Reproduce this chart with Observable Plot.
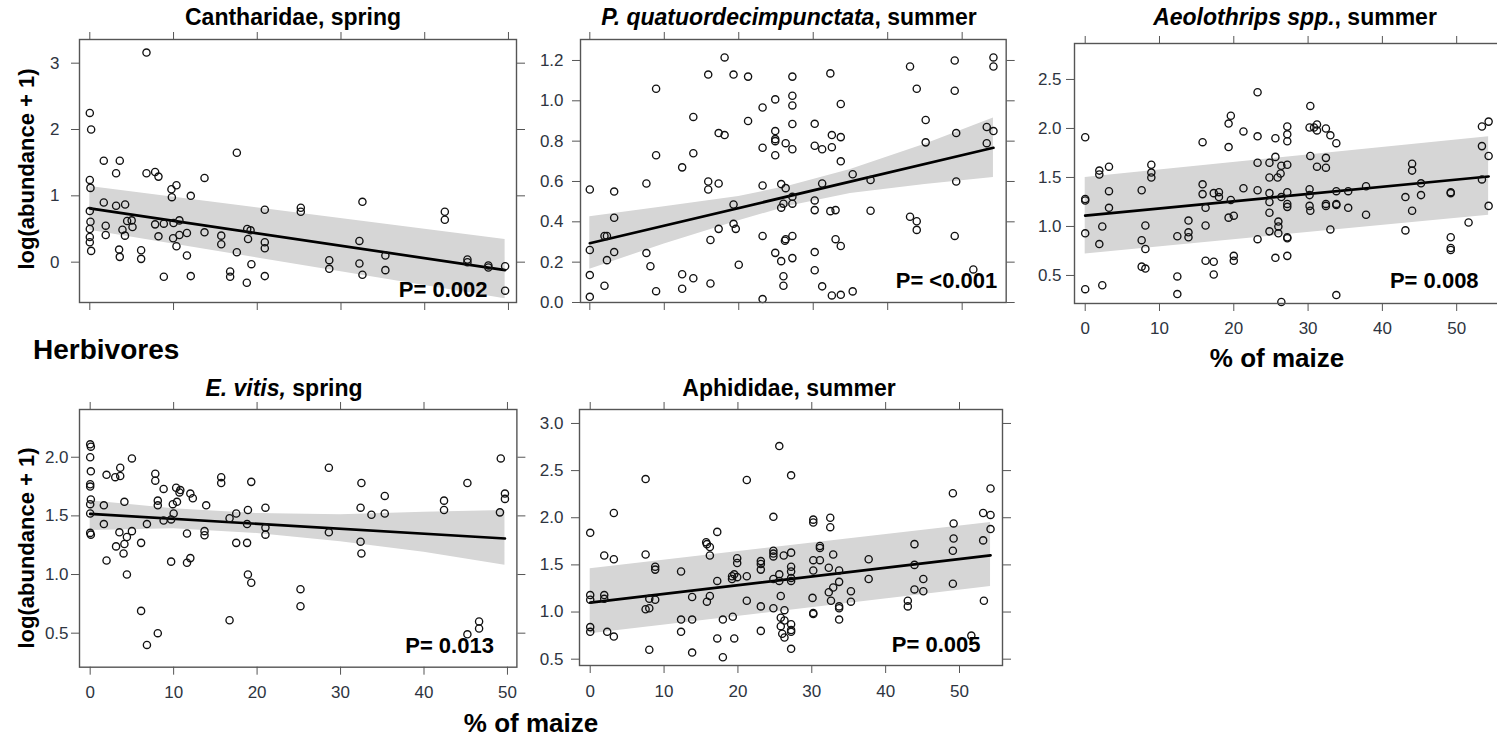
<!DOCTYPE html>
<html><head><meta charset="utf-8">
<script src="https://cdn.jsdelivr.net/npm/d3@7"></script>
<script src="https://cdn.jsdelivr.net/npm/@observablehq/plot@0.6"></script>
<style>
html,body{margin:0;padding:0;background:#fff;}
#wrap{position:relative;width:1497px;height:737px;overflow:hidden;font-family:"Liberation Sans",Arial,sans-serif;}
.lbl{position:absolute;font-weight:bold;white-space:nowrap;line-height:1;color:#000;}
</style></head>
<body><div id="wrap"></div>
<script>
// ---------------- DATA ----------------
const xTicks = [0, 10, 20, 30, 40, 50];
const panelTitles = ["Cantharidae, spring", "<i>P. quatuordecimpunctata</i>, summer", "<i>Aeolothrips spp.</i>, summer", "<i>E. vitis,</i> spring", "Aphididae, summer"];
const pValues = ["P= 0.002", "P= <0.001", "P= 0.008", "P= 0.013", "P= 0.005"];
const groupLabel = "Herbivores";
const xLabel = "% of maize";
const yLabel = "log(abundance + 1)";

// Cantharidae, spring
const canthX = [6.77,0,0.16,1.67,3.58,3.14,6.77,7.8,8.2,13.7,17.56,0,0.08,9.75,10.35,9.8,12.06,1.67,3.14,4.22,0,20.9,25.2,25.2,32.56,42.4,42.4,0.08,1.9,1.9,0,0,0,0.16,3.9,4.46,4.2,5.1,5.0,7.8,8.2,8.84,10.0,10.7,9.95,10.35,10.7,11.6,13.7,15.7,15.7,18.8,19.2,18.9,20.9,20.9,3.5,3.58,6.13,6.13,11.6,17.56,8.84,12.06,16.76,16.76,18.75,19.3,20.9,28.6,28.6,32.2,32.2,32.56,35.3,35.3,45.1,45.1,47.6,47.6,49.6,49.6];
const canthY = [3.16,2.25,2.0,1.53,1.53,1.34,1.34,1.36,1.29,1.27,1.65,1.24,1.12,1.10,1.16,0.98,1.0,0.9,0.85,0.87,0.77,0.79,0.82,0.76,0.91,0.76,0.64,0.61,0.55,0.41,0.50,0.38,0.30,0.17,0.49,0.62,0.40,0.53,0.63,0.57,0.39,0.58,0.59,0.63,0.36,0.24,0.41,0.44,0.45,0.40,0.27,0.50,0.48,0.35,0.30,0.21,0.19,0.08,0.18,0.05,0.10,0.15,-0.22,-0.21,-0.14,-0.22,-0.31,-0.03,-0.21,0.03,-0.10,0.32,-0.02,-0.19,0.10,-0.12,0.04,0.0,-0.05,-0.08,-0.06,-0.43];
const canthFitX = [0, 49.6], canthFitY = [0.81, -0.12];
const canthBandX = [0, 49.6], canthBandLo = [0.48, -0.55], canthBandHi = [1.14, 0.34];

// P. quatuordecimpunctata, summer
const propX = [0,0,0,0,1.97,2.3,2.3,1.97,3.27,3.27,3.27,7.6,7.6,8.14,8.9,8.9,8.9,12.4,12.4,12.4,13.9,13.9,13.9,15.9,15.9,15.9,16.2,16.2,17.3,17.3,17.3,18.1,18.1,19.3,19.3,19.3,19.6,20.0,21.25,21.25,23.2,23.2,23.2,23.2,23.2,24.9,24.9,24.9,24.9,24.9,24.9,25.7,25.7,25.7,26.0,26.3,26.3,26.3,26.2,26.0,26.0,27.2,27.2,27.2,27.2,27.2,27.2,27.2,27.2,27.2,30.2,30.2,30.2,30.2,30.2,30.2,31.2,31.2,31.2,32.3,32.5,32.5,32.3,32.5,33.0,33.0,33.7,33.7,33.7,33.7,33.7,35.3,35.3,37.7,37.7,43.0,43.0,43.9,43.9,43.9,45.1,45.1,49.0,49.0,49.2,49.2,49.0,51.5,53.3,53.3,54.2,54.2,54.2];
const propY = [0.56,0.26,0.136,0.028,0.33,0.33,0.21,0.083,0.55,0.42,0.25,0.59,0.245,0.18,1.06,0.73,0.056,0.67,0.14,0.068,0.92,0.74,0.12,1.13,0.60,0.56,0.31,0.094,0.84,0.59,0.365,1.215,0.83,1.13,0.486,0.39,0.365,0.187,1.12,0.90,0.967,0.767,0.58,0.33,0.017,1.007,0.85,0.81,0.80,0.73,0.246,0.587,0.47,0.205,0.49,0.567,0.79,0.314,0.306,0.13,0.083,1.12,1.025,0.977,0.885,0.76,0.524,0.49,0.33,0.22,0.886,0.777,0.506,0.458,0.25,0.16,0.76,0.59,0.08,1.136,0.83,0.77,0.453,0.035,0.458,0.314,0.984,0.82,0.70,0.28,0.038,0.636,0.055,0.607,0.455,1.17,0.425,1.06,0.403,0.36,0.905,0.794,1.20,1.05,0.84,0.60,0.33,0.164,0.87,0.79,0.85,1.215,1.17];
const propFitX = [0, 54.2], propFitY = [0.294, 0.767];
const propBandX = [0, 10, 20, 27, 35, 45, 54.2];
const propBandLo = [0.165, 0.29, 0.405, 0.48, 0.54, 0.585, 0.62];
const propBandHi = [0.425, 0.475, 0.525, 0.58, 0.66, 0.785, 0.915];

// Aeolothrips spp., summer
const aeolX = [0,0,0,0,0,1.9,1.9,1.9,2.3,2.3,3.2,3.2,3.2,7.6,7.6,7.6,8.1,8.1,8.1,8.9,8.9,8.9,12.4,12.4,12.4,13.9,13.9,13.9,15.8,15.8,15.8,16.2,16.2,16.2,17.3,17.3,17.3,18.0,18.0,19.3,19.6,19.3,19.6,19.3,20.0,20.0,20.0,21.3,21.3,23.2,23.2,23.2,23.2,23.2,24.8,24.8,24.8,24.8,24.8,24.8,25.6,25.6,25.9,25.6,26.0,26.0,26.0,26.3,26.4,26.4,26.4,27.2,27.2,27.2,27.2,27.2,27.2,27.2,27.2,27.2,27.2,30.3,30.2,30.3,30.2,30.2,30.2,30.3,30.8,31.2,31.2,31.2,32.4,33.0,33.8,32.4,32.4,32.4,32.4,33.0,33.8,33.8,33.8,33.8,35.4,35.4,37.8,37.8,43.1,43.1,44.0,44.0,44.0,45.2,45.2,49.2,49.2,49.2,49.2,49.2,51.6,53.4,53.4,53.4,54.3,54.3,54.3];
const aeolY = [1.91,1.28,1.265,0.93,0.36,1.57,1.53,0.82,1.0,0.40,1.61,1.36,1.19,1.37,0.86,0.59,1.01,0.77,0.57,1.63,1.55,1.50,0.90,0.49,0.31,1.06,0.94,0.89,1.86,1.43,1.33,1.19,1.01,0.65,1.34,0.64,0.51,1.35,1.30,2.05,2.13,1.81,1.27,1.09,1.11,0.70,0.65,1.97,1.39,2.37,1.92,1.65,1.37,0.87,1.65,1.50,1.34,1.25,1.14,0.95,1.90,1.71,1.50,0.68,1.05,1.0,0.93,1.54,1.62,1.30,0.23,2.02,1.94,1.87,1.63,1.35,1.23,1.20,0.89,0.88,0.70,2.23,2.01,1.72,1.38,1.32,1.21,1.16,2.01,2.04,1.98,1.61,2.0,1.93,1.85,1.70,1.60,1.23,1.21,0.97,1.36,1.23,1.22,0.30,1.36,1.19,1.41,1.12,1.30,0.96,1.64,1.57,1.16,1.44,1.32,1.35,1.34,0.89,0.78,0.76,1.04,2.02,1.82,1.48,2.07,1.72,1.21];
const aeolFitX = [0, 54.3], aeolFitY = [1.11, 1.51];
const aeolBandX = [0, 54.3], aeolBandLo = [0.72, 1.115], aeolBandHi = [1.50, 1.915];

// E. vitis, spring
const evitX = [0,0.08,0,0.08,0,0,0.08,0,0,0,0.08,1.64,1.64,1.96,1.96,3.0,3.6,3.6,3.5,3.1,4.0,4.1,4.1,4.4,4.4,5.0,5.0,6.1,6.1,6.8,6.8,7.8,7.8,8.1,8.1,8.1,8.8,8.8,9.7,9.7,9.9,10.0,10.3,10.4,10.7,10.8,11.6,11.6,12.0,12.0,12.3,13.7,13.7,13.9,15.7,15.7,16.7,16.7,17.5,17.5,18.8,18.8,18.9,18.9,19.3,19.3,21.0,21.0,21.0,25.2,25.2,28.6,28.6,32.5,32.4,32.4,32.5,33.7,35.3,35.3,42.4,42.4,45.2,45.2,46.6,46.6,49.2,49.1,49.7,49.7];
const evitY = [2.11,2.09,2.0,1.88,1.77,1.75,1.64,1.60,1.52,1.355,1.34,1.59,1.43,1.85,1.12,1.83,1.91,1.84,1.36,1.24,1.18,1.26,1.62,1.32,1.0,1.99,1.37,1.27,0.69,1.43,0.40,1.86,1.80,1.63,1.59,0.50,1.73,1.46,1.47,1.11,1.60,1.52,1.74,1.62,1.70,1.72,1.35,1.10,1.69,1.14,1.65,1.37,1.335,1.59,1.83,1.78,1.48,0.61,1.52,1.27,1.43,1.27,1.55,1.0,1.79,0.93,1.57,1.40,1.34,0.875,0.73,1.91,1.36,1.78,1.57,1.28,1.18,1.51,1.67,1.52,1.63,1.55,1.78,0.49,0.60,0.54,1.99,1.53,1.69,1.645];
const evitFitX = [0, 49.7], evitFitY = [1.517, 1.307];
const evitBandX = [0, 10, 20, 30, 40, 49.7];
const evitBandLo = [1.375, 1.39, 1.35, 1.28, 1.19, 1.08];
const evitBandHi = [1.63, 1.56, 1.52, 1.51, 1.53, 1.545];

// Aphididae, summer
const aphX = [0,0,0,0,0,1.9,1.9,1.9,2.3,3.2,3.2,3.2,7.5,7.5,7.5,8.0,8.0,8.0,8.8,8.8,8.8,12.3,12.3,12.3,13.8,13.8,13.8,15.7,15.8,16.2,16.2,16.2,15.8,17.2,17.2,17.2,17.96,17.96,19.2,19.2,19.5,19.3,19.5,19.9,19.9,19.9,21.2,21.2,21.2,23.1,23.1,23.1,23.1,23.1,24.8,24.8,24.8,24.8,24.8,24.8,25.6,25.6,25.6,25.8,25.8,25.8,26.0,26.2,26.3,26.3,26.3,27.2,27.2,27.2,27.2,27.2,27.2,27.2,27.2,27.2,27.2,30.2,30.2,30.2,30.2,30.1,30.2,30.2,31.1,31.1,31.1,32.5,32.5,32.3,32.9,32.3,32.6,32.9,33.7,33.7,33.7,33.7,33.7,35.3,35.3,37.7,37.7,43.0,43.0,43.9,43.9,43.9,45.1,45.1,49.1,49.2,49.2,49.1,49.1,51.6,53.2,53.2,53.3,54.2,54.2,54.2];
const aphY = [1.84,1.18,1.13,0.84,0.79,1.60,1.18,1.14,0.79,2.05,1.56,0.74,2.41,1.61,1.03,1.14,1.04,0.60,1.48,1.45,1.13,1.43,0.92,0.79,1.16,0.92,0.57,1.74,1.72,1.69,1.60,1.17,1.11,1.85,1.33,0.72,0.92,0.52,1.38,1.35,1.40,0.95,0.72,1.57,1.52,1.37,2.40,1.38,1.12,1.54,1.51,1.45,1.06,0.80,2.01,1.65,1.62,1.59,1.35,1.04,2.76,1.40,1.33,1.17,0.94,0.85,0.77,1.60,1.02,0.91,0.73,2.45,1.63,1.48,1.43,1.36,1.33,0.87,0.81,0.79,0.61,1.98,1.95,1.55,1.44,1.15,0.99,0.98,1.70,1.68,1.55,2.0,1.90,1.47,1.61,1.21,1.12,1.26,1.44,1.32,1.06,1.04,0.92,1.22,1.11,1.56,1.35,1.12,1.06,1.72,1.50,1.24,1.35,1.22,2.26,1.94,1.78,1.65,1.30,0.75,2.05,1.76,1.12,2.31,2.03,1.88];
const aphFitX = [0, 54.2], aphFitY = [1.10, 1.60];
const aphBandX = [0, 54.2], aphBandLo = [0.77, 1.27], aphBandHi = [1.46, 1.95];

// ---------------- DRAW ----------------
const wrap = document.getElementById("wrap");
const FONT = '"Liberation Sans", Arial, sans-serif';
const TICKFONT = '"Liberation Sans Narrow", "Arial Narrow", "Liberation Sans", Arial, sans-serif';

function zip(xs, ys) { return xs.map((x, i) => ({x, y: ys[i]})); }

function panel(cfg) {
  const mL = 60, mR = 14, mT = 12, mB = cfg.showX ? 40 : 12;
  const W = cfg.R - cfg.L + mL + mR, H = cfg.B - cfg.T + mT + mB;
  const pts = zip(cfg.px, cfg.py);
  const fit = zip(cfg.fx, cfg.fy);
  const band = cfg.bx.map((x, i) => ({x, lo: cfg.blo[i], hi: cfg.bhi[i]}));
  const svg = Plot.plot({
    width: W, height: H,
    marginLeft: mL, marginRight: mR, marginTop: mT, marginBottom: mB,
    x: {domain: cfg.xd},
    y: {domain: cfg.yd},
    style: {fontFamily: TICKFONT, fontSize: "17px", background: "transparent", overflow: "visible"},
    marks: [
      Plot.areaY(band, {x: "x", y1: "lo", y2: "hi", fill: "#d6d6d6", curve: "linear"}),
      Plot.line(fit, {x: "x", y: "y", stroke: "#000", strokeWidth: 2.7}),
      Plot.dot(pts, {x: "x", y: "y", r: 3.6, stroke: "#111", strokeWidth: 1.35, fill: "none"}),
      Plot.frame({stroke: "#555", strokeWidth: 1.4}),
      Plot.axisX(xTicks, {anchor: "bottom", tickSize: 8, tickPadding: cfg.xPad, stroke: "#555", fill: "#2e3440", fontSize: 17, label: null,
        tickFormat: cfg.showX ? (d => String(d)) : (() => "")}),
      Plot.axisX(xTicks, {anchor: "top", tickSize: 8, stroke: "#555", label: null, tickFormat: () => ""}),
      Plot.axisY(cfg.yTicks, {anchor: "left", tickSize: 8, tickPadding: cfg.yPad, stroke: "#555", fill: "#2e3440", fontSize: 17, label: null, tickFormat: cfg.yFmt}),
      Plot.axisY(cfg.yTicks, {anchor: "right", tickSize: 8, stroke: "#555", label: null, tickFormat: () => ""}),
      Plot.text([cfg.pLabel], {frameAnchor: "bottom-right", textAnchor: "end", lineAnchor: "bottom", dx: cfg.pdx, dy: cfg.pdy,
        fontFamily: FONT, fontWeight: "bold", fontSize: 22, fill: "#000", text: d => d})
    ]
  });
  svg.style.position = "absolute";
  svg.style.left = (cfg.L - mL) + "px";
  svg.style.top = (cfg.T - mT) + "px";
  wrap.appendChild(svg);
}

const f0 = d => String(d);
const f1 = d => d.toFixed(1);

panel({L: 79, R: 516, T: 39, B: 302, xd: [-1.23, 50.96], yd: [-0.608, 3.357], yTicks: [0, 1, 2, 3], yFmt: f0,
  showX: false, xPad: 3, yPad: 12, pdx: -29, pdy: -6, pLabel: pValues[0],
  px: canthX, py: canthY, fx: canthFitX, fy: canthFitY, bx: canthBandX, blo: canthBandLo, bhi: canthBandHi});
panel({L: 580, R: 1005.7, T: 39.3, B: 302.3, xd: [-1.25, 55.91], yd: [0, 1.304], yTicks: [0, 0.2, 0.4, 0.6, 0.8, 1.0, 1.2], yFmt: f1,
  showX: false, xPad: 3, yPad: 9, pdx: -9, pdy: -14, pLabel: pValues[1],
  px: propX, py: propY, fx: propFitX, fy: propFitY, bx: propBandX, blo: propBandLo, bhi: propBandHi});
panel({L: 1074.3, R: 1500.4, T: 43.3, B: 303.3, xd: [-1.44, 55.91], yd: [0.214, 2.867], yTicks: [0.5, 1.0, 1.5, 2.0, 2.5], yFmt: f1,
  showX: true, xPad: 10, yPad: 5, pdx: -22, pdy: -15, pLabel: pValues[2],
  px: aeolX, py: aeolY, fx: aeolFitX, fy: aeolFitY, bx: aeolBandX, blo: aeolBandLo, bhi: aeolBandHi});
panel({L: 79.3, R: 516.7, T: 409, B: 666.7, xd: [-1.28, 51.13], yd: [0.21, 2.407], yTicks: [0.5, 1.0, 1.5, 2.0], yFmt: f1,
  showX: true, xPad: 11, yPad: 3, pdx: -23, pdy: -14, pLabel: pValues[3],
  px: evitX, py: evitY, fx: evitFitX, fy: evitFitY, bx: evitBandX, blo: evitBandLo, bhi: evitBandHi});
panel({L: 579.3, R: 1002.3, T: 409.3, B: 665.3, xd: [-1.45, 55.82], yd: [0.433, 3.148], yTicks: [0.5, 1.0, 1.5, 2.0, 2.5, 3.0], yFmt: f1,
  showX: true, xPad: 11, yPad: 8, pdx: -22, pdy: -14, pLabel: pValues[4],
  px: aphX, py: aphY, fx: aphFitX, fy: aphFitY, bx: aphBandX, blo: aphBandLo, bhi: aphBandHi});

// ---------------- TEXT ----------------
function label(html, opts) {
  const d = document.createElement("div");
  d.className = "lbl";
  d.innerHTML = html;
  d.style.fontSize = opts.fs + "px";
  d.style.left = opts.x + "px";
  d.style.top = (opts.baseline - 0.85 * opts.fs) + "px";
  if (opts.center) d.style.transform = "translateX(-50%)";
  wrap.appendChild(d);
  return d;
}
const titlePos = [[293, 26], [789, 26], [1295, 26], [284, 397], [789, 397]];
panelTitles.forEach((t, i) => label(t, {fs: 23, x: titlePos[i][0], baseline: titlePos[i][1], center: true}));
label(groupLabel, {fs: 28, x: 33, baseline: 360});
label(xLabel, {fs: 26, x: 1277, baseline: 367, center: true});
label(xLabel, {fs: 26, x: 531, baseline: 732, center: true});
[[27, 169], [27, 548]].forEach(([cx, cy]) => {
  const d = document.createElement("div");
  d.className = "lbl";
  d.textContent = yLabel;
  d.style.fontSize = "22px";
  d.style.left = cx + "px";
  d.style.top = cy + "px";
  d.style.transform = "translate(-50%,-50%) rotate(-90deg)";
  wrap.appendChild(d);
});
</script>
</body></html>
